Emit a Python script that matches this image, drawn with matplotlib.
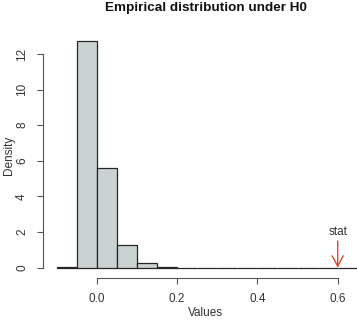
import numpy as np
import matplotlib
matplotlib.use("Agg")
import matplotlib.pyplot as plt

# histogram of the statistic under H0 (bin width 0.05)
bin_edges = [-0.10, -0.05, 0.00, 0.05, 0.10, 0.15, 0.20, 0.25, 0.30, 0.35,
             0.40, 0.45, 0.50, 0.55, 0.60, 0.65, 0.70]
density = [0.03, 12.72, 5.58, 1.27, 0.25, 0.06, 0.0, 0.0, 0.0, 0.0,
           0.0, 0.0, 0.0, 0.0, 0.0, 0.0]
stat = 0.6

x_ticks = [0.0, 0.2, 0.4, 0.6]
y_ticks = [0, 2, 4, 6, 8, 10, 12]

plt.rcParams['font.family'] = ['Liberation Sans', 'DejaVu Sans']

W, H = 357, 320
fig = plt.figure(figsize=(W / 100, H / 100), dpi=100)

# plot region in pixels (left edge = y axis, bottom = x axis line)
left_px, right_px, top_px, bottom_px = 43.3, 372, 30, 277.7
ax = fig.add_axes([left_px / W, 1 - bottom_px / H,
                   (right_px - left_px) / W, (bottom_px - top_px) / H])

x0_px, xscale = 96.7, 401.7
y0_px, yscale = 267.7, 17.81
ax.set_xlim((left_px - x0_px) / xscale, (right_px - x0_px) / xscale)
ax.set_ylim(-(bottom_px - y0_px) / yscale, (y0_px - top_px) / yscale)

edges = np.array(bin_edges)
ax.bar(edges[:-1], density, width=np.diff(edges), align='edge',
       color='#c8d3d2', edgecolor='#262626', linewidth=0.9)

# R-style axes
for s in ['top', 'right']:
    ax.spines[s].set_visible(False)
ax.spines['left'].set_bounds(y_ticks[0], y_ticks[-1])
ax.spines['bottom'].set_bounds(x_ticks[0], x_ticks[-1])
for s in ['left', 'bottom']:
    ax.spines[s].set_color('#555555')
    ax.spines[s].set_linewidth(0.8)
ax.set_xticks(x_ticks)
ax.set_xticklabels([f"{v:.1f}" for v in x_ticks])
ax.set_yticks(y_ticks)
ax.set_yticklabels([str(v) for v in y_ticks], rotation=90, va='center')
ax.tick_params(direction='out', length=4, width=0.8, color='#555555',
               labelsize=8.5, labelcolor='#333333', pad=7)
ax.tick_params(axis='y', pad=7)

# arrow marking the observed statistic
ax.annotate('', xy=(stat, 0), xytext=(stat, 1.5),
            arrowprops=dict(arrowstyle='->,head_length=0.75,head_width=0.4',
                            color='#dc4a30', lw=1.0, shrinkA=0, shrinkB=0))
ax.text(stat, 2.0, 'stat', ha='center', va='center', fontsize=8.5, color='#333333')

fig.text(206 / W, 1 - 11 / H, 'Empirical distribution under H0', ha='center',
         va='baseline', fontsize=9.7, fontweight='bold', color='#111111')
fig.text(206 / W, 1 - 313 / H, 'Values', ha='center', va='center',
         fontsize=8.5, color='#333333')
fig.text(9 / W, 1 - 155 / H, 'Density', ha='center', va='center', rotation=90,
         fontsize=8.5, color='#333333')

fig.savefig('out.png', dpi=100)
